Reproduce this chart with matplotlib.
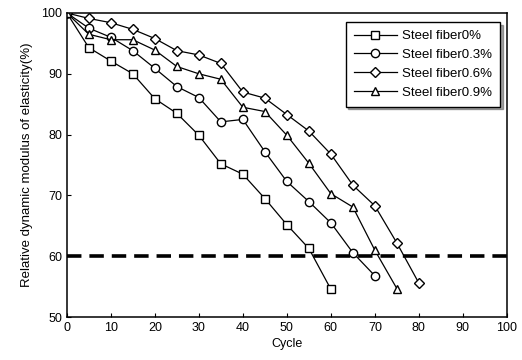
import matplotlib.pyplot as plt

plt.rcParams['font.family'] = ['Liberation Sans', 'DejaVu Sans']

cycles = [0, 5, 10, 15, 20, 25, 30, 35, 40, 45, 50, 55, 60, 65, 70, 75, 80]

fiber_0 = [100, 94.3, 92.1, 90.0, 85.9, 83.5, 79.9, 75.2, 73.5, 69.5, 65.2, 61.3, 54.6]
fiber_03 = [100, 97.5, 96.0, 93.8, 90.9, 87.9, 86.1, 82.1, 82.5, 77.2, 72.3, 69.0, 65.5, 60.6, 56.8]
fiber_06 = [100, 99.1, 98.4, 97.3, 95.8, 93.8, 93.1, 91.7, 87.0, 86.0, 83.3, 80.6, 76.8, 71.7, 68.3, 62.2, 55.6]
fiber_09 = [100, 96.5, 95.6, 95.6, 93.9, 91.2, 90.0, 89.1, 84.5, 83.8, 79.9, 75.3, 70.3, 68.1, 61.0, 54.7]

labels = ['Steel fiber0%', 'Steel fiber0.3%', 'Steel fiber0.6%', 'Steel fiber0.9%']
markers = ['s', 'o', 'D', '^']
limit = 60

fig = plt.figure(figsize=(5.22, 3.6), dpi=100)
ax = fig.add_axes([0.128, 0.119, 0.843, 0.845])

for ys, lab, m in zip([fiber_0, fiber_03, fiber_06, fiber_09], labels, markers):
    ms = 5.5 if m == 'D' else 6
    ax.plot(cycles[:len(ys)], ys, color='black', lw=0.9, marker=m, ms=ms,
            mfc='white', mec='black', mew=1.0, label=lab)

ax.axhline(limit, color='black', lw=2.6, ls=(0, (4, 2.2)), zorder=1)

ax.set_xlim(0, 100)
ax.set_ylim(50, 100)
ax.set_xticks(range(0, 101, 10))
ax.set_yticks(range(50, 101, 10))
ax.tick_params(direction='in', length=3, labelsize=9, width=0.8)
for s in ax.spines.values():
    s.set_linewidth(1.1)

ax.set_xlabel('Cycle', fontsize=9, labelpad=3)
ax.set_ylabel('Relative dynamic modulus of elasticity(%)', fontsize=9.5, labelpad=6)

leg = ax.legend(loc='upper right', bbox_to_anchor=(0.985, 0.97), fontsize=9.5,
                frameon=True, fancybox=False, shadow=True, edgecolor='black',
                handlelength=3.3, borderpad=0.6, labelspacing=0.5, handletextpad=0.4,
                borderaxespad=0.0)
leg.get_frame().set_linewidth(1.0)

fig.savefig('out.png', dpi=100)
